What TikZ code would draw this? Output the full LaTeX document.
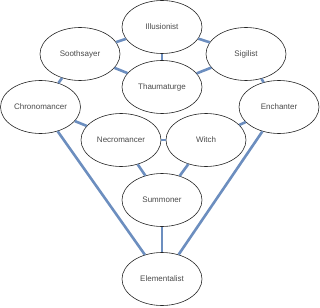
\documentclass[tikz,border=0pt]{standalone}
\usepackage{fontspec}
\setmainfont{Liberation Sans}
\usetikzlibrary{shapes.geometric}
\definecolor{edgeblue}{HTML}{6C8EBF}
\definecolor{txt}{HTML}{4A4A4A}
\begin{document}
\begin{tikzpicture}[x=1pt,y=-1pt,
  cls/.style={ellipse,draw=black!85,line width=0.6pt,fill=white,minimum width=80pt,minimum height=53pt,inner sep=0pt,font=\fontsize{8}{9}\selectfont,text=txt},
  link/.style={draw=edgeblue,line width=2.6pt}]
\useasboundingbox (0,0) rectangle (320,307);
\node[cls] (ill) at (162,27) {Illusionist};
\node[cls] (soo) at (80,54) {Soothsayer};
\node[cls] (sig) at (246,54) {Sigilist};
\node[cls] (tha) at (162,87) {Thaumaturge};
\node[cls] (chr) at (40.5,107) {Chronomancer};
\node[cls] (enc) at (279,107) {Enchanter};
\node[cls] (nec) at (121,140) {Necromancer};
\node[cls] (wit) at (206,140) {Witch};
\node[cls] (sum) at (162,200) {Summoner};
\node[cls] (ele) at (162,279) {Elementalist};
\path[link] (ill) -- (soo);
\path[link] (ill) -- (sig);
\path[link] (ill) -- (tha);
\path[link] (soo) -- (tha);
\path[link] (sig) -- (tha);
\path[link] (soo) -- (chr);
\path[link] (sig) -- (enc);
\path[link] (chr) -- (nec);
\path[link] (nec) -- (wit);
\path[link] (wit) -- (enc);
\path[link] (nec) -- (sum);
\path[link] (wit) -- (sum);
\path[link] (sum) -- (ele);
\path[link] (chr) -- (ele);
\path[link] (enc) -- (ele);
\end{tikzpicture}
\end{document}
